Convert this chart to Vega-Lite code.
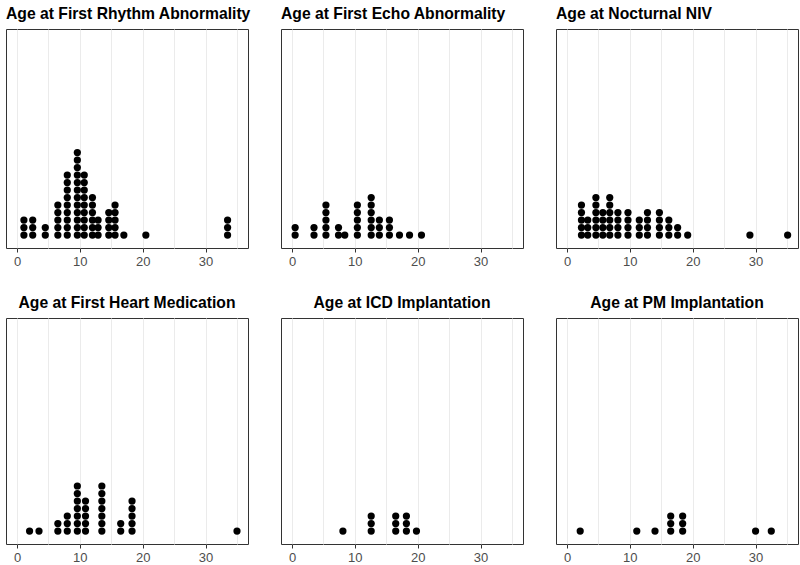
{
  "$schema": "https://vega.github.io/schema/vega-lite/v6.json",
  "background": "white",
  "padding": 5,
  "config": {
    "view": {"stroke": "#333333", "strokeWidth": 1},
    "title": {"font": "Liberation Sans", "fontWeight": "bold", "fontSize": 15.7, "color": "black", "offset": 6}
  },
  "datasets": {
    "d": [
      {"p":"r","a":1.1},{"p":"r","a":1.1},{"p":"r","a":1.1},
      {"p":"r","a":2.5},{"p":"r","a":2.5},{"p":"r","a":2.5},
      {"p":"r","a":4.5},{"p":"r","a":4.5},
      {"p":"r","a":6.5},{"p":"r","a":6.5},{"p":"r","a":6.5},{"p":"r","a":6.5},{"p":"r","a":6.5},
      {"p":"r","a":8.0},{"p":"r","a":8.0},{"p":"r","a":8.0},{"p":"r","a":8.0},{"p":"r","a":8.0},{"p":"r","a":8.0},{"p":"r","a":8.0},{"p":"r","a":8.0},{"p":"r","a":8.0},
      {"p":"r","a":9.6},{"p":"r","a":9.6},{"p":"r","a":9.6},{"p":"r","a":9.6},{"p":"r","a":9.6},{"p":"r","a":9.6},{"p":"r","a":9.6},{"p":"r","a":9.6},{"p":"r","a":9.6},{"p":"r","a":9.6},{"p":"r","a":9.6},{"p":"r","a":9.6},
      {"p":"r","a":10.7},{"p":"r","a":10.7},{"p":"r","a":10.7},{"p":"r","a":10.7},{"p":"r","a":10.7},{"p":"r","a":10.7},{"p":"r","a":10.7},{"p":"r","a":10.7},{"p":"r","a":10.7},
      {"p":"r","a":12.0},{"p":"r","a":12.0},{"p":"r","a":12.0},{"p":"r","a":12.0},{"p":"r","a":12.0},{"p":"r","a":12.0},
      {"p":"r","a":12.9},{"p":"r","a":12.9},{"p":"r","a":12.9},
      {"p":"r","a":14.6},{"p":"r","a":14.6},{"p":"r","a":14.6},{"p":"r","a":14.6},
      {"p":"r","a":15.6},{"p":"r","a":15.6},{"p":"r","a":15.6},{"p":"r","a":15.6},{"p":"r","a":15.6},
      {"p":"r","a":17.0},
      {"p":"r","a":20.5},
      {"p":"r","a":33.5},{"p":"r","a":33.5},{"p":"r","a":33.5},

      {"p":"e","a":0.5},{"p":"e","a":0.5},
      {"p":"e","a":3.5},{"p":"e","a":3.5},
      {"p":"e","a":5.4},{"p":"e","a":5.4},{"p":"e","a":5.4},{"p":"e","a":5.4},{"p":"e","a":5.4},
      {"p":"e","a":7.4},{"p":"e","a":7.4},
      {"p":"e","a":8.4},
      {"p":"e","a":10.4},{"p":"e","a":10.4},{"p":"e","a":10.4},{"p":"e","a":10.4},{"p":"e","a":10.4},
      {"p":"e","a":12.6},{"p":"e","a":12.6},{"p":"e","a":12.6},{"p":"e","a":12.6},{"p":"e","a":12.6},{"p":"e","a":12.6},
      {"p":"e","a":13.9},{"p":"e","a":13.9},{"p":"e","a":13.9},
      {"p":"e","a":15.5},{"p":"e","a":15.5},{"p":"e","a":15.5},
      {"p":"e","a":17.1},
      {"p":"e","a":18.7},
      {"p":"e","a":20.6},

      {"p":"n","a":2.3},{"p":"n","a":2.3},{"p":"n","a":2.3},{"p":"n","a":2.3},{"p":"n","a":2.3},
      {"p":"n","a":3.3},{"p":"n","a":3.3},{"p":"n","a":3.3},
      {"p":"n","a":4.6},{"p":"n","a":4.6},{"p":"n","a":4.6},{"p":"n","a":4.6},{"p":"n","a":4.6},{"p":"n","a":4.6},
      {"p":"n","a":5.7},{"p":"n","a":5.7},{"p":"n","a":5.7},{"p":"n","a":5.7},
      {"p":"n","a":6.8},{"p":"n","a":6.8},{"p":"n","a":6.8},{"p":"n","a":6.8},{"p":"n","a":6.8},{"p":"n","a":6.8},
      {"p":"n","a":8.1},{"p":"n","a":8.1},{"p":"n","a":8.1},{"p":"n","a":8.1},
      {"p":"n","a":9.7},{"p":"n","a":9.7},{"p":"n","a":9.7},{"p":"n","a":9.7},
      {"p":"n","a":11.5},{"p":"n","a":11.5},{"p":"n","a":11.5},
      {"p":"n","a":12.8},{"p":"n","a":12.8},{"p":"n","a":12.8},{"p":"n","a":12.8},
      {"p":"n","a":14.7},{"p":"n","a":14.7},{"p":"n","a":14.7},{"p":"n","a":14.7},
      {"p":"n","a":16.2},{"p":"n","a":16.2},{"p":"n","a":16.2},
      {"p":"n","a":17.6},{"p":"n","a":17.6},
      {"p":"n","a":19.2},
      {"p":"n","a":29.1},
      {"p":"n","a":35.1},

      {"p":"h","a":2.0},
      {"p":"h","a":3.5},
      {"p":"h","a":6.5},{"p":"h","a":6.5},
      {"p":"h","a":8.0},{"p":"h","a":8.0},{"p":"h","a":8.0},
      {"p":"h","a":9.6},{"p":"h","a":9.6},{"p":"h","a":9.6},{"p":"h","a":9.6},{"p":"h","a":9.6},{"p":"h","a":9.6},{"p":"h","a":9.6},
      {"p":"h","a":10.9},{"p":"h","a":10.9},{"p":"h","a":10.9},{"p":"h","a":10.9},{"p":"h","a":10.9},
      {"p":"h","a":13.5},{"p":"h","a":13.5},{"p":"h","a":13.5},{"p":"h","a":13.5},{"p":"h","a":13.5},{"p":"h","a":13.5},{"p":"h","a":13.5},
      {"p":"h","a":16.5},{"p":"h","a":16.5},
      {"p":"h","a":18.3},{"p":"h","a":18.3},{"p":"h","a":18.3},{"p":"h","a":18.3},{"p":"h","a":18.3},
      {"p":"h","a":35.0},

      {"p":"i","a":8.1},
      {"p":"i","a":12.6},{"p":"i","a":12.6},{"p":"i","a":12.6},
      {"p":"i","a":16.5},{"p":"i","a":16.5},{"p":"i","a":16.5},
      {"p":"i","a":18.2},{"p":"i","a":18.2},{"p":"i","a":18.2},
      {"p":"i","a":19.8},

      {"p":"m","a":2.1},
      {"p":"m","a":11.1},
      {"p":"m","a":14.0},
      {"p":"m","a":16.5},{"p":"m","a":16.5},{"p":"m","a":16.5},
      {"p":"m","a":18.4},{"p":"m","a":18.4},{"p":"m","a":18.4},
      {"p":"m","a":30.0},
      {"p":"m","a":32.5}
    ]
  },
  "columns": 3,
  "bounds": "flush",
  "spacing": {"column": 33, "row": 70},
  "concat": [
    {
      "title": {"text": "Age at First Rhythm Abnormality", "anchor": "start"},
      "width": 242, "height": 219,
      "data": {"name": "d"},
      "transform": [{"filter": "datum.p === 'r'"}, {"window": [{"op": "row_number", "as": "s"}], "groupby": ["a"]}],
      "mark": {"type": "circle", "size": 52, "color": "black", "opacity": 1},
      "encoding": {
        "x": {"field": "a", "type": "quantitative", "scale": {"domain": [-1.75, 36.75], "nice": false, "zero": false},
              "axis": {"title": null, "values": [0,5,10,15,20,25,30,35], "labelExpr": "datum.value % 10 === 0 ? datum.label : ''", "grid": true, "gridColor": "#ebebeb", "gridWidth": 1, "domain": false, "tickColor": {"condition": {"test": "datum.value % 10 === 0", "value": "#333333"}, "value": "transparent"}, "tickSize": 4, "labelColor": "#4d4d4d", "labelFontSize": 13, "labelFont": "Liberation Sans", "labelPadding": 3}},
        "y": {"field": "s", "type": "quantitative", "scale": {"domain": [-0.73, 28.47], "nice": false, "zero": false}, "axis": null}
      }
    },
    {
      "title": {"text": "Age at First Echo Abnormality", "anchor": "start"},
      "width": 242, "height": 219,
      "data": {"name": "d"},
      "transform": [{"filter": "datum.p === 'e'"}, {"window": [{"op": "row_number", "as": "s"}], "groupby": ["a"]}],
      "mark": {"type": "circle", "size": 52, "color": "black", "opacity": 1},
      "encoding": {
        "x": {"field": "a", "type": "quantitative", "scale": {"domain": [-1.75, 36.75], "nice": false, "zero": false},
              "axis": {"title": null, "values": [0,5,10,15,20,25,30,35], "labelExpr": "datum.value % 10 === 0 ? datum.label : ''", "grid": true, "gridColor": "#ebebeb", "gridWidth": 1, "domain": false, "tickColor": {"condition": {"test": "datum.value % 10 === 0", "value": "#333333"}, "value": "transparent"}, "tickSize": 4, "labelColor": "#4d4d4d", "labelFontSize": 13, "labelFont": "Liberation Sans", "labelPadding": 3}},
        "y": {"field": "s", "type": "quantitative", "scale": {"domain": [-0.73, 28.47], "nice": false, "zero": false}, "axis": null}
      }
    },
    {
      "title": {"text": "Age at Nocturnal NIV", "anchor": "start"},
      "width": 242, "height": 219,
      "data": {"name": "d"},
      "transform": [{"filter": "datum.p === 'n'"}, {"window": [{"op": "row_number", "as": "s"}], "groupby": ["a"]}],
      "mark": {"type": "circle", "size": 52, "color": "black", "opacity": 1},
      "encoding": {
        "x": {"field": "a", "type": "quantitative", "scale": {"domain": [-1.75, 36.75], "nice": false, "zero": false},
              "axis": {"title": null, "values": [0,5,10,15,20,25,30,35], "labelExpr": "datum.value % 10 === 0 ? datum.label : ''", "grid": true, "gridColor": "#ebebeb", "gridWidth": 1, "domain": false, "tickColor": {"condition": {"test": "datum.value % 10 === 0", "value": "#333333"}, "value": "transparent"}, "tickSize": 4, "labelColor": "#4d4d4d", "labelFontSize": 13, "labelFont": "Liberation Sans", "labelPadding": 3}},
        "y": {"field": "s", "type": "quantitative", "scale": {"domain": [-0.73, 28.47], "nice": false, "zero": false}, "axis": null}
      }
    },
    {
      "title": {"text": "Age at First Heart Medication", "anchor": "middle"},
      "width": 242, "height": 226,
      "data": {"name": "d"},
      "transform": [{"filter": "datum.p === 'h'"}, {"window": [{"op": "row_number", "as": "s"}], "groupby": ["a"]}],
      "mark": {"type": "circle", "size": 52, "color": "black", "opacity": 1},
      "encoding": {
        "x": {"field": "a", "type": "quantitative", "scale": {"domain": [-1.75, 36.75], "nice": false, "zero": false},
              "axis": {"title": null, "values": [0,5,10,15,20,25,30,35], "labelExpr": "datum.value % 10 === 0 ? datum.label : ''", "grid": true, "gridColor": "#ebebeb", "gridWidth": 1, "domain": false, "tickColor": {"condition": {"test": "datum.value % 10 === 0", "value": "#333333"}, "value": "transparent"}, "tickSize": 4, "labelColor": "#4d4d4d", "labelFontSize": 13, "labelFont": "Liberation Sans", "labelPadding": 3}},
        "y": {"field": "s", "type": "quantitative", "scale": {"domain": [-0.73, 29.4], "nice": false, "zero": false}, "axis": null}
      }
    },
    {
      "title": {"text": "Age at ICD Implantation", "anchor": "middle"},
      "width": 242, "height": 226,
      "data": {"name": "d"},
      "transform": [{"filter": "datum.p === 'i'"}, {"window": [{"op": "row_number", "as": "s"}], "groupby": ["a"]}],
      "mark": {"type": "circle", "size": 52, "color": "black", "opacity": 1},
      "encoding": {
        "x": {"field": "a", "type": "quantitative", "scale": {"domain": [-1.75, 36.75], "nice": false, "zero": false},
              "axis": {"title": null, "values": [0,5,10,15,20,25,30,35], "labelExpr": "datum.value % 10 === 0 ? datum.label : ''", "grid": true, "gridColor": "#ebebeb", "gridWidth": 1, "domain": false, "tickColor": {"condition": {"test": "datum.value % 10 === 0", "value": "#333333"}, "value": "transparent"}, "tickSize": 4, "labelColor": "#4d4d4d", "labelFontSize": 13, "labelFont": "Liberation Sans", "labelPadding": 3}},
        "y": {"field": "s", "type": "quantitative", "scale": {"domain": [-0.73, 29.4], "nice": false, "zero": false}, "axis": null}
      }
    },
    {
      "title": {"text": "Age at PM Implantation", "anchor": "middle"},
      "width": 242, "height": 226,
      "data": {"name": "d"},
      "transform": [{"filter": "datum.p === 'm'"}, {"window": [{"op": "row_number", "as": "s"}], "groupby": ["a"]}],
      "mark": {"type": "circle", "size": 52, "color": "black", "opacity": 1},
      "encoding": {
        "x": {"field": "a", "type": "quantitative", "scale": {"domain": [-1.75, 36.75], "nice": false, "zero": false},
              "axis": {"title": null, "values": [0,5,10,15,20,25,30,35], "labelExpr": "datum.value % 10 === 0 ? datum.label : ''", "grid": true, "gridColor": "#ebebeb", "gridWidth": 1, "domain": false, "tickColor": {"condition": {"test": "datum.value % 10 === 0", "value": "#333333"}, "value": "transparent"}, "tickSize": 4, "labelColor": "#4d4d4d", "labelFontSize": 13, "labelFont": "Liberation Sans", "labelPadding": 3}},
        "y": {"field": "s", "type": "quantitative", "scale": {"domain": [-0.73, 29.4], "nice": false, "zero": false}, "axis": null}
      }
    }
  ]
}
